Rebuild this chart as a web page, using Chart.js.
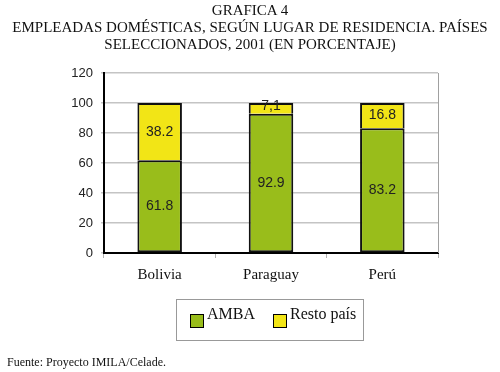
<!DOCTYPE html>
<html>
<head>
<meta charset="utf-8">
<script src="https://cdn.jsdelivr.net/npm/chart.js@4"></script>
<style>
  body { margin: 0; background: #fff; }
  #wrap { position: relative; width: 500px; height: 372px; }
  #chart { position: absolute; left: 0; top: 0; }
  .ttl { position: absolute; left: 0; width: 500px; text-align: center;
         font: 15px "Liberation Serif", serif; color: #111; line-height: 17px; }
  #src { position: absolute; left: 7px; top: 355px; font: 12px "Liberation Serif", serif; color: #111; }
</style>
</head>
<body>
<div id="wrap">
  <canvas id="chart" width="500" height="372"></canvas>
  <div class="ttl" style="top:2px">GRAFICA 4<br>EMPLEADAS DOMÉSTICAS, SEGÚN LUGAR DE RESIDENCIA. PAÍSES<br>SELECCIONADOS, 2001 (EN PORCENTAJE)</div>
  <div id="src">Fuente: Proyecto IMILA/Celade.</div>
</div>
<script>
const paises = ['Bolivia', 'Paraguay', 'Perú'];
const amba = [61.8, 92.9, 83.2];
const resto = [38.2, 7.1, 16.8];
const ambaTxt = ['61.8', '92.9', '83.2'];
const restoTxt = ['38.2', '7,1', '16.8'];
const yTicks = [0, 20, 40, 60, 80, 100, 120];

// etiquetas dentro de las barras
const valueLabels = {
  id: 'valueLabels',
  afterDatasetsDraw(chart) {
    const ctx = chart.ctx;
    ctx.save();
    ctx.font = '14px "Liberation Sans", sans-serif';
    ctx.fillStyle = '#222';
    ctx.textAlign = 'center';
    ctx.textBaseline = 'middle';
    chart.data.datasets.forEach((ds, i) => {
      chart.getDatasetMeta(i).data.forEach((bar, j) => {
        const y = (bar.y + bar.base) / 2 - (ds.txt[j] === '7,1' ? 2 : 0);
        ctx.fillText(ds.txt[j], bar.x, y);
      });
    });
    ctx.restore();
  }
};

// borde derecho gris + leyenda con caja
const frame = {
  id: 'frame',
  beforeDatasetsDraw(chart) {
    const { ctx, chartArea: a } = chart;
    ctx.save();
    ctx.strokeStyle = '#a0a0a0';
    ctx.lineWidth = 1;
    ctx.beginPath();
    ctx.moveTo(a.right + 0.5, a.top);
    ctx.lineTo(a.right + 0.5, a.bottom);
    ctx.stroke();
    ctx.restore();
  },
  afterDraw(chart) {
    const ctx = chart.ctx;
    ctx.save();
    ctx.strokeStyle = '#999';
    ctx.lineWidth = 1;
    ctx.strokeRect(176.5, 299.5, 187, 41);
    ctx.font = '16px "Liberation Serif", serif';
    ctx.textBaseline = 'alphabetic';
    const xs = [190, 273];
    chart.data.datasets.forEach((ds, i) => {
      ctx.fillStyle = ds.backgroundColor;
      ctx.fillRect(xs[i], 314, 13, 13);
      ctx.strokeStyle = '#000';
      ctx.strokeRect(xs[i] + 0.5, 314.5, 13, 13);
      ctx.fillStyle = '#111';
      ctx.fillText(ds.label, xs[i] + 17, 319);
    });
    ctx.restore();
  }
};

new Chart(document.getElementById('chart'), {
  type: 'bar',
  data: {
    labels: paises,
    datasets: [
      { label: 'AMBA', data: amba, txt: ambaTxt, backgroundColor: '#99bd1b',
        borderColor: '#111', borderWidth: 2, borderSkipped: false,
        barPercentage: 0.4, categoryPercentage: 1 },
      { label: 'Resto país', data: resto, txt: restoTxt, backgroundColor: '#f2e516',
        borderColor: '#111', borderWidth: 2, borderSkipped: 'start',
        barPercentage: 0.4, categoryPercentage: 1 }
    ]
  },
  options: {
    responsive: false,
    animation: false,
    layout: { padding: { left: 0, right: 62, top: 73, bottom: 79 } },
    plugins: { legend: { display: false }, tooltip: { enabled: false } },
    scales: {
      x: {
        stacked: true,
        afterFit: s => { s.height = 40; },
        grid: { drawOnChartArea: false, offset: true, tickLength: 5, color: '#b0b0b0' },
        border: { color: '#000', width: 2 },
        ticks: { font: { family: '"Liberation Serif", serif', size: 15 }, color: '#111', padding: 8 }
      },
      y: {
        stacked: true,
        min: 0, max: 120,
        afterFit: s => { s.width = 104; },
        afterBuildTicks: s => { s.ticks = yTicks.map(v => ({ value: v })); },
        grid: { color: '#c4c4c4', lineWidth: 1.5, tickLength: 3 },
        border: { color: '#000', width: 2 },
        ticks: { font: { family: '"Liberation Sans", sans-serif', size: 13 }, color: '#222', padding: 8 }
      }
    }
  },
  plugins: [valueLabels, frame]
});
</script>
</body>
</html>
